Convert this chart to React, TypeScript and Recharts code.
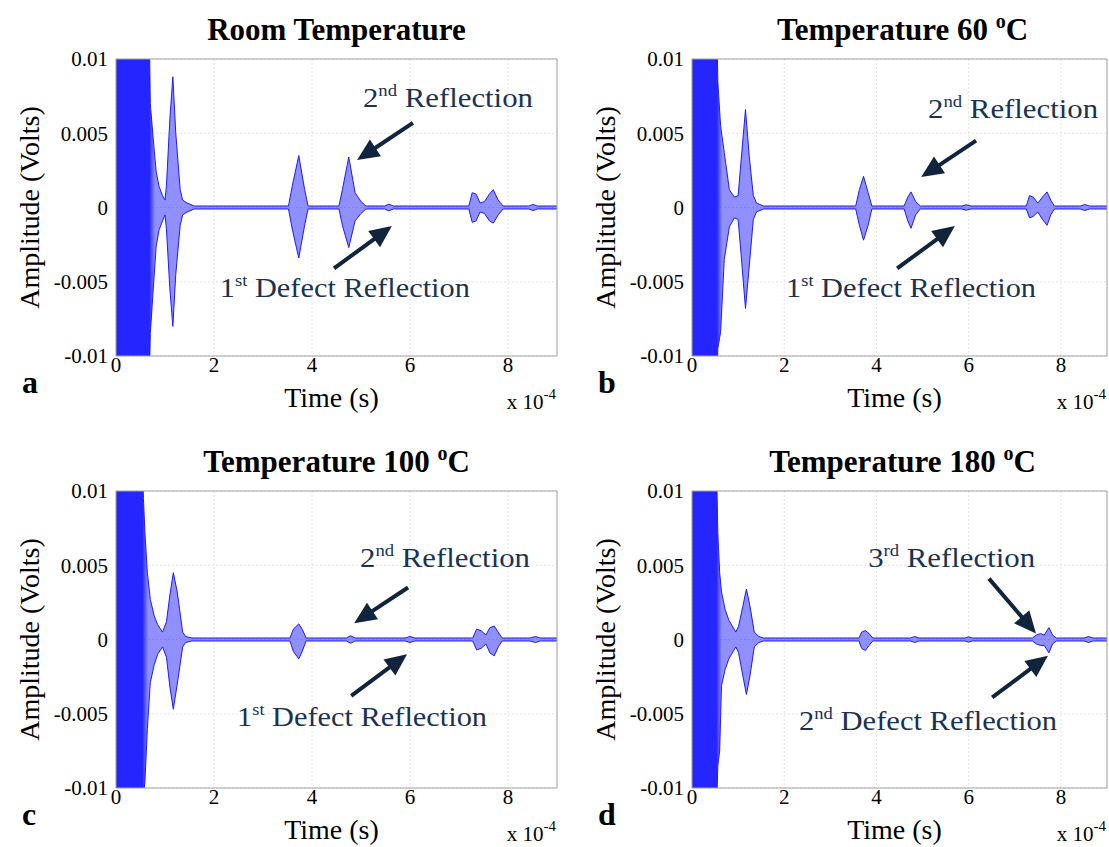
import React from "react";
import {
  ComposedChart,
  Area,
  XAxis,
  YAxis,
  CartesianGrid,
  ReferenceArea,
  ReferenceLine,
  ReferenceDot,
} from "recharts";

// time in units of 1e-4 s, amplitude in volts (upper / lower envelope of each trace)
const timeRoom = [0, 0.68, 0.7, 0.76, 0.82, 0.88, 0.95, 1.0, 1.03, 1.1, 1.16, 1.22, 1.31, 1.36, 1.45, 1.6, 3.52, 3.6, 3.73, 3.85, 3.92, 4.55, 4.62, 4.75, 4.88, 5.0, 5.1, 5.48, 5.57, 5.66, 7.2, 7.27, 7.35, 7.43, 7.52, 7.62, 7.7, 7.8, 7.9, 8.42, 8.51, 8.6, 9.0];
const upperRoom = [0.012, 0.012, 0.007, 0.0046, 0.0024, 0.0014, 0.0008, 0.0005, 0.0015, 0.006, 0.0088, 0.005, 0.0012, 0.0005, 0.0003, 0.0001, 0.0001, 0.0015, 0.0035, 0.0012, 0.0001, 0.0001, 0.0012, 0.0034, 0.001, 0.0004, 0.0001, 0.0001, 0.00022, 0.0001, 0.0001, 0.001, 0.0009, 0.0003, 0.0004, 0.0009, 0.0012, 0.0005, 0.0001, 0.0001, 0.0002, 0.0001, 0.0001];
const lowerRoom = [-0.012, -0.012, -0.0085, -0.0055, -0.0026, -0.0015, -0.0009, -0.0005, -0.0015, -0.0055, -0.008, -0.0045, -0.0012, -0.0005, -0.0003, -0.0001, -0.0001, -0.0015, -0.0034, -0.0012, -0.0001, -0.0001, -0.0012, -0.0027, -0.0009, -0.0004, -0.0001, -0.0001, -0.00022, -0.0001, -0.0001, -0.001, -0.0009, -0.0003, -0.0004, -0.0009, -0.00105, -0.0005, -0.0001, -0.0001, -0.0002, -0.0001, -0.0001];

const time60 = [0, 0.54, 0.56, 0.62, 0.7, 0.81, 0.92, 1.0, 1.06, 1.16, 1.24, 1.33, 1.4, 1.55, 3.55, 3.63, 3.72, 3.82, 3.9, 4.6, 4.68, 4.75, 4.85, 4.95, 5.85, 5.95, 6.05, 7.25, 7.32, 7.4, 7.5, 7.6, 7.7, 7.78, 7.86, 8.42, 8.52, 8.62, 9.0];
const upper60 = [0.012, 0.012, 0.0085, 0.0055, 0.0037, 0.0012, 0.0007, 0.0008, 0.003, 0.0066, 0.0035, 0.0008, 0.0003, 0.0001, 0.0001, 0.0012, 0.0021, 0.001, 0.0001, 0.0001, 0.0007, 0.00105, 0.0004, 0.0001, 0.0001, 0.00018, 0.0001, 0.0001, 0.0008, 0.0007, 0.0003, 0.0007, 0.00105, 0.0005, 0.0001, 0.0001, 0.0002, 0.0001, 0.0001];
const lower60 = [-0.012, -0.012, -0.0095, -0.0084, -0.0035, -0.0013, -0.0007, -0.0008, -0.003, -0.0068, -0.004, -0.0008, -0.0003, -0.0001, -0.0001, -0.0012, -0.0022, -0.0012, -0.0001, -0.0001, -0.0009, -0.0014, -0.0005, -0.0001, -0.0001, -0.00018, -0.0001, -0.0001, -0.0007, -0.0006, -0.0003, -0.0008, -0.0012, -0.0005, -0.0001, -0.0001, -0.0002, -0.0001, -0.0001];

const time100 = [0, 0.54, 0.56, 0.59, 0.64, 0.7, 0.78, 0.85, 0.95, 1.03, 1.1, 1.17, 1.25, 1.36, 1.42, 1.55, 3.55, 3.62, 3.73, 3.8, 3.88, 4.7, 4.79, 4.88, 5.9, 6.0, 6.1, 7.28, 7.36, 7.45, 7.55, 7.63, 7.72, 7.8, 7.88, 8.45, 8.56, 8.66, 9.0];
const upper100 = [0.012, 0.012, 0.0095, 0.0072, 0.0045, 0.0027, 0.0016, 0.001, 0.0005, 0.0012, 0.003, 0.0045, 0.0032, 0.0005, 0.0002, 0.0001, 0.0001, 0.0007, 0.00105, 0.0007, 0.0001, 0.0001, 0.00025, 0.0001, 0.0001, 0.0002, 0.0001, 0.0001, 0.0007, 0.0006, 0.0003, 0.0008, 0.0009, 0.0005, 0.0001, 0.0001, 0.0002, 0.0001, 0.0001];
const lower100 = [-0.012, -0.012, -0.0105, -0.0096, -0.006, -0.0029, -0.0017, -0.001, -0.0005, -0.0012, -0.0032, -0.0047, -0.003, -0.0005, -0.0002, -0.0001, -0.0001, -0.0008, -0.0013, -0.0008, -0.0001, -0.0001, -0.00025, -0.0001, -0.0001, -0.0002, -0.0001, -0.0001, -0.0007, -0.0006, -0.0003, -0.0009, -0.0011, -0.0005, -0.0001, -0.0001, -0.0002, -0.0001, -0.0001];

const time180 = [0, 0.53, 0.56, 0.6, 0.64, 0.72, 0.8, 0.95, 1.01, 1.1, 1.18, 1.26, 1.35, 1.45, 1.55, 3.62, 3.68, 3.76, 3.84, 3.92, 4.74, 4.83, 4.92, 5.92, 6.0, 6.08, 7.38, 7.47, 7.56, 7.64, 7.74, 7.82, 7.9, 8.5, 8.6, 8.7, 9.0];
const upper180 = [0.012, 0.012, 0.0072, 0.0045, 0.0032, 0.002, 0.0013, 0.0005, 0.0009, 0.0022, 0.0034, 0.0022, 0.0005, 0.0002, 0.0001, 0.0001, 0.0005, 0.0006, 0.0004, 0.0001, 0.0001, 0.0002, 0.0001, 0.0001, 0.00018, 0.0001, 0.0001, 0.0003, 0.0004, 0.0003, 0.0008, 0.0003, 0.0001, 0.0001, 0.0002, 0.0001, 0.0001];
const lower180 = [-0.012, -0.012, -0.0085, -0.0075, -0.0031, -0.002, -0.0013, -0.0005, -0.0009, -0.0024, -0.0037, -0.0024, -0.0005, -0.0002, -0.0001, -0.0001, -0.0006, -0.00074, -0.0004, -0.0001, -0.0001, -0.0002, -0.0001, -0.0001, -0.00018, -0.0001, -0.0001, -0.0003, -0.0004, -0.0004, -0.0009, -0.0003, -0.0001, -0.0001, -0.0002, -0.0001, -0.0001];

const xTicks = [0, 2, 4, 6, 8];
const yTicks = [-0.01, -0.005, 0, 0.005, 0.01];

const SERIF = '"Liberation Serif", "Times New Roman", serif';
const TEXT_NAVY = "#1b3252";
const ARROW_NAVY = "#10243e";
const YW = 110; // y-axis band width
const XH = 58; // x-axis band height
const MT = 15;

type Note = { pre: string; sup: string; rest: string; x: number; y: number; len: number };
type Pointer = { from: [number, number]; to: [number, number] };
type PanelDef = {
  id: string;
  title: string;
  deg: string | null;
  plot: { left: number; top: number; width: number; height: number };
  times: number[];
  upper: number[];
  lower: number[];
  burstEnd: number;
  notes: Note[];
  arrows: Pointer[];
};

const panels: PanelDef[] = [
  {
    id: "a",
    title: "Room Temperature",
    deg: null,
    plot: { left: 116, top: 59, width: 441, height: 297 },
    times: timeRoom,
    upper: upperRoom,
    lower: lowerRoom,
    burstEnd: 0.68,
    notes: [
      { pre: "2", sup: "nd", rest: "Reflection", x: 5.04, y: 0.0068, len: 170 },
      { pre: "1", sup: "st", rest: "Defect Reflection", x: 2.12, y: -0.006, len: 250 },
    ],
    arrows: [
      { from: [6.06, 0.0057], to: [4.92, 0.0032] },
      { from: [4.45, -0.0041], to: [5.63, -0.00125] },
    ],
  },
  {
    id: "b",
    title: "Temperature 60 ",
    deg: "C",
    plot: { left: 692, top: 59, width: 415, height: 297 },
    times: time60,
    upper: upper60,
    lower: lower60,
    burstEnd: 0.54,
    notes: [
      { pre: "2", sup: "nd", rest: "Reflection", x: 5.12, y: 0.006, len: 170 },
      { pre: "1", sup: "st", rest: "Defect Reflection", x: 2.04, y: -0.006, len: 250 },
    ],
    arrows: [
      { from: [6.16, 0.0045], to: [4.97, 0.00205] },
      { from: [4.45, -0.0041], to: [5.7, -0.00125] },
    ],
  },
  {
    id: "c",
    title: "Temperature 100 ",
    deg: "C",
    plot: { left: 116, top: 491, width: 441, height: 297 },
    times: time100,
    upper: upper100,
    lower: lower100,
    burstEnd: 0.54,
    notes: [
      { pre: "2", sup: "nd", rest: "Reflection", x: 4.98, y: 0.0049, len: 170 },
      { pre: "1", sup: "st", rest: "Defect Reflection", x: 2.47, y: -0.0058, len: 250 },
    ],
    arrows: [
      { from: [5.96, 0.0035], to: [4.86, 0.0011] },
      { from: [4.8, -0.0038], to: [5.94, -0.001] },
    ],
  },
  {
    id: "d",
    title: "Temperature 180 ",
    deg: "C",
    plot: { left: 692, top: 491, width: 415, height: 297 },
    times: time180,
    upper: upper180,
    lower: lower180,
    burstEnd: 0.53,
    notes: [
      { pre: "3", sup: "rd", rest: "Reflection", x: 3.82, y: 0.0049, len: 167 },
      { pre: "2", sup: "nd", rest: "Defect Reflection", x: 2.32, y: -0.0061, len: 258 },
    ],
    arrows: [
      { from: [6.44, 0.0041], to: [7.46, 0.0004] },
      { from: [6.51, -0.0039], to: [7.72, -0.0011] },
    ],
  },
];

const arrowShape = (props: any) => {
  const { x1, y1, x2, y2 } = props;
  const dx = x2 - x1;
  const dy = y2 - y1;
  const len = Math.hypot(dx, dy) || 1;
  const ux = dx / len;
  const uy = dy / len;
  const head = 22;
  const half = 10;
  const bx = x2 - ux * head;
  const by = y2 - uy * head;
  return (
    <g>
      <line x1={x1} y1={y1} x2={bx + ux * 3} y2={by + uy * 3} stroke={ARROW_NAVY} strokeWidth={4} />
      <polygon
        points={`${x2},${y2} ${bx - uy * half},${by + ux * half} ${bx + uy * half},${by - ux * half}`}
        fill={ARROW_NAVY}
      />
    </g>
  );
};

const noteShape = (n: Note) => (props: any) => (
  <text
    x={props.cx}
    y={props.cy}
    fontFamily={SERIF}
    fontSize={28}
    fill={TEXT_NAVY}
    textLength={n.len}
    lengthAdjust="spacingAndGlyphs"
  >
    {n.pre}
    <tspan fontSize={17} dy={-11}>
      {n.sup}
    </tspan>
    <tspan dy={11}>{" " + n.rest}</tspan>
  </text>
);

const yTitle = (props: any) => {
  const vb = props.viewBox || { x: 0, y: 0, width: 0, height: 0 };
  const cx = vb.x + 23;
  const cy = vb.y + vb.height / 2;
  return (
    <text
      x={cx}
      y={cy}
      transform={`rotate(-90 ${cx} ${cy})`}
      textAnchor="middle"
      dominantBaseline="central"
      fontFamily={SERIF}
      fontSize={28}
      fill="#000"
    >
      Amplitude (Volts)
    </text>
  );
};

const xTitle = (props: any) => {
  const vb = props.viewBox || { x: 0, y: 0, width: 0, height: 0 };
  return (
    <text
      x={vb.x + vb.width / 2 - 5}
      y={vb.y + 51}
      textAnchor="middle"
      fontFamily={SERIF}
      fontSize={28}
      fill="#000"
    >
      Time (s)
    </text>
  );
};

function Panel({ p }: { p: PanelDef }) {
  const right = 1109 - (p.plot.left + p.plot.width) > 4 ? 4 : 2;
  const rows = p.times.map((t, i) => ({ t, band: [p.lower[i], p.upper[i]] }));
  const gid = `burst-${p.id}`;
  const tick = { fill: "#000", fontSize: 21, fontFamily: SERIF };
  return (
    <div style={{ position: "absolute", left: p.plot.left - YW, top: p.plot.top - MT }}>
      <ComposedChart
        width={YW + p.plot.width + right}
        height={MT + p.plot.height + XH}
        data={rows}
        margin={{ top: MT, right, bottom: 0, left: 0 }}
      >
        <defs>
          <linearGradient id={gid} x1="0" y1="0" x2="1" y2="0">
            <stop offset={0} stopColor="#1212ff" stopOpacity={0.92} />
            <stop offset={p.burstEnd / 9} stopColor="#1212ff" stopOpacity={0.92} />
            <stop offset={(p.burstEnd + 0.12) / 9} stopColor="#3434ff" stopOpacity={0.55} />
            <stop offset={1} stopColor="#3434ff" stopOpacity={0.55} />
          </linearGradient>
        </defs>
        <CartesianGrid stroke="#e4e4e4" strokeDasharray="2 2" />
        <XAxis
          type="number"
          dataKey="t"
          domain={[0, 9]}
          ticks={xTicks}
          height={XH}
          axisLine={false}
          tickLine={false}
          tickSize={0}
          tickMargin={1}
          tick={tick}
          label={{ content: xTitle }}
        />
        <YAxis
          type="number"
          domain={[-0.01, 0.01]}
          ticks={yTicks}
          allowDataOverflow
          width={YW}
          axisLine={false}
          tickLine={false}
          tickSize={0}
          tickMargin={8}
          tick={tick}
          tickFormatter={(v: number) => (v === 0 ? "0" : String(v))}
          label={{ content: yTitle }}
        />
        <Area
          type="linear"
          dataKey="band"
          stroke="#1a1aff"
          strokeWidth={1}
          fill={`url(#${gid})`}
          fillOpacity={1}
          dot={false}
          activeDot={false}
          isAnimationActive={false}
        />
        <ReferenceArea x1={0} x2={9} y1={-0.01} y2={0.01} fill="none" stroke="#a3a3a3" strokeWidth={1} />
        {p.arrows.map((a, i) => (
          <ReferenceLine
            key={`arrow-${i}`}
            segment={[
              { x: a.from[0], y: a.from[1] },
              { x: a.to[0], y: a.to[1] },
            ]}
            shape={arrowShape}
          />
        ))}
        {p.notes.map((n, i) => (
          <ReferenceDot key={`note-${i}`} x={n.x} y={n.y} r={1} shape={noteShape(n)} />
        ))}
      </ComposedChart>
    </div>
  );
}

function Overlay() {
  return (
    <svg
      width={1109}
      height={847}
      style={{ position: "absolute", left: 0, top: 0, pointerEvents: "none" }}
    >
      {panels.map((p) => {
        const cx = p.plot.left + p.plot.width / 2 - (p.id === "a" || p.id === "c" ? 0 : -3);
        const titleY = p.plot.top - 19;
        const letterX = p.plot.left - 94;
        const bottom = p.plot.top + p.plot.height;
        return (
          <g key={`ov-${p.id}`}>
            <text
              x={cx}
              y={titleY}
              textAnchor="middle"
              fontFamily={SERIF}
              fontWeight="bold"
              fontSize={31}
              fill="#000"
            >
              {p.title}
              {p.deg && (
                <>
                  <tspan fontSize={20} dy={-12}>
                    o
                  </tspan>
                  <tspan dy={12}>{p.deg}</tspan>
                </>
              )}
            </text>
            <text x={letterX} y={bottom + 37} fontFamily={SERIF} fontWeight="bold" fontSize={32} fill="#000">
              {p.id}
            </text>
            <text
              x={p.plot.left + p.plot.width - 1}
              y={bottom + 53}
              textAnchor="end"
              fontFamily={SERIF}
              fontSize={21}
              fill="#000"
            >
              x 10
              <tspan fontSize={15} dy={-10}>
                -4
              </tspan>
            </text>
          </g>
        );
      })}
    </svg>
  );
}

export default function App() {
  return (
    <div
      style={{
        position: "absolute",
        left: 0,
        top: 0,
        width: 1109,
        height: 847,
        overflow: "hidden",
        background: "#fff",
        fontFamily: SERIF,
      }}
    >
      {panels.map((p) => (
        <Panel key={p.id} p={p} />
      ))}
      <Overlay />
    </div>
  );
}
